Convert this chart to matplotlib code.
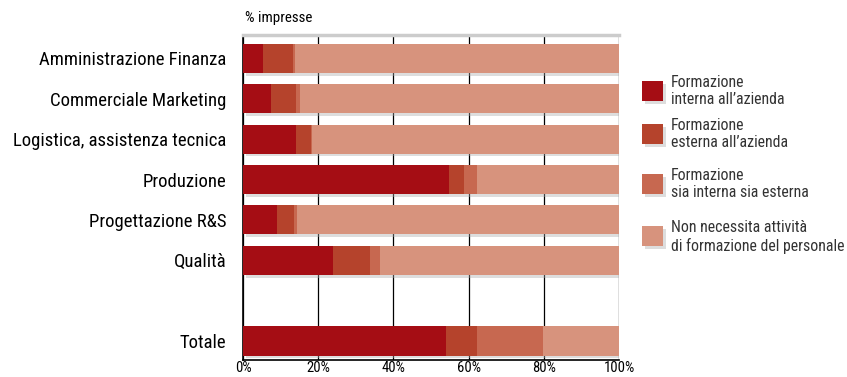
import matplotlib.pyplot as plt
import matplotlib.patheffects as pe
from matplotlib.patches import Rectangle
from matplotlib import font_manager

# font: prefer a condensed face, as in the reference
names = {f.name for f in font_manager.fontManager.ttflist}
FONT = 'DejaVu Sans'
for cand in ['Liberation Sans Narrow', 'DejaVu Sans Condensed', 'Roboto Condensed',
             'Open Sans Condensed', 'Noto Sans Display', 'Roboto']:
    if cand in names:
        FONT = cand
        break
plt.rcParams['font.family'] = [FONT, 'DejaVu Sans']

categories = ['Amministrazione Finanza', 'Commerciale Marketing',
              'Logistica, assistenza tecnica', 'Produzione',
              'Progettazione R&S', 'Qualità', 'Totale']
positions = [0, 1, 2, 3, 4, 5, 7]

interna = [5.3, 7.4, 14.1, 54.8, 9.0, 23.9, 54.0]
esterna = [7.9, 6.7, 4.0, 4.0, 4.6, 9.9, 8.2]
entrambe = [0.6, 1.1, 0.3, 3.4, 0.8, 2.6, 17.6]
nessuna = [100 - a - b - c for a, b, c in zip(interna, esterna, entrambe)]

series = [interna, esterna, entrambe, nessuna]
labels = ['Formazione\ninterna all\u2019azienda',
          'Formazione\nesterna all\u2019azienda',
          'Formazione\nsia interna sia esterna',
          'Non necessita attività\ndi formazione del personale']
colors = ['#A50D14', '#B5432C', '#C76850', '#D7937D']
xticks = [0, 20, 40, 60, 80, 100]

fig = plt.figure(figsize=(8.47, 3.77), dpi=100)
ax = fig.add_axes([243 / 847, 1 - 360 / 377, 376 / 847, 325 / 377])

shadow = [pe.SimplePatchShadow(offset=(2, -2), shadow_rgbFace='#aaaaaa', alpha=0.4), pe.Normal()]
left = [0] * len(positions)
for vals, col in zip(series, colors):
    ax.barh(positions, vals, left=left, height=0.72, color=col, zorder=3)
    left = [l + v for l, v in zip(left, vals)]
# shadow under the whole stacked bar
tot = ax.barh(positions, left, height=0.72, color=colors[-1], zorder=2)
for b in tot:
    b.set_path_effects(shadow)

ax.set_xlim(0, 100)
ax.set_ylim(7.47, -0.58)
ax.set_xticks(xticks)
ax.set_xticklabels([f'{t}%' for t in xticks], fontsize=10.5)
ax.set_yticks(positions)
ax.set_yticklabels(categories, fontsize=13.5)
ax.tick_params(axis='y', length=0, pad=12)
ax.tick_params(axis='x', length=0, pad=1)
ax.grid(axis='x', color='black', linewidth=0.9, zorder=1)
for s in ['top', 'right']:
    ax.spines[s].set_visible(False)
ax.spines['left'].set_linewidth(1.2)
ax.spines['bottom'].set_linewidth(1.2)
ax.axhline(-0.58, color='#cccccc', linewidth=2.5, clip_on=False, zorder=4)

fig.text(245 / 847, 1 - 18 / 377, '% impresse', fontsize=10.8, va='center', ha='left')

# legend
leg_tops = [81, 124, 174, 226]
for top, lab, col in zip(leg_tops, labels, colors):
    r = Rectangle((642 / 847, 1 - (top + 20) / 377), 21 / 847, 20 / 377,
                  transform=fig.transFigure, facecolor=col, edgecolor='none')
    r.set_path_effects(shadow)
    fig.add_artist(r)
    fig.text(671 / 847, 1 - (top - 6) / 377, lab, fontsize=11.4, va='top', ha='left',
             linespacing=1.2, color='#333333')

fig.savefig('out.png', dpi=100)
